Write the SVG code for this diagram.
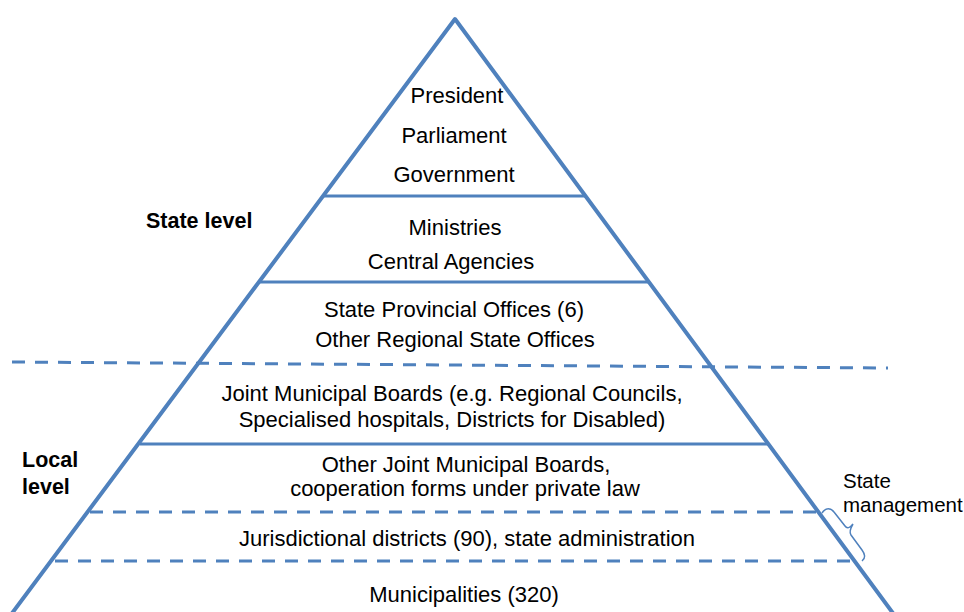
<svg xmlns="http://www.w3.org/2000/svg" width="964" height="612" viewBox="0 0 964 612">
<style>
.t{font-family:"Liberation Sans",Arial,sans-serif;font-size:22px;fill:#000;text-anchor:middle}
.b{font-family:"Liberation Sans",Arial,sans-serif;font-size:21.5px;font-weight:bold;fill:#000}
.s{font-family:"Liberation Sans",Arial,sans-serif;font-size:20.5px;fill:#000}
.edge{fill:none;stroke:#4F81BD;stroke-width:4;stroke-linejoin:round}
.solid{stroke:#4F81BD;stroke-width:3;fill:none}
.dash{stroke:#4F81BD;stroke-width:3;stroke-dasharray:13 10;fill:none}
.brace{stroke:#4F81BD;stroke-width:1.5;fill:none}
</style>
<rect width="964" height="612" fill="#fff"/>
<g id="connectors">
<polyline class="edge" points="7,620 455,19 898,620"/>
<line class="solid" x1="323" y1="196" x2="585" y2="196"/>
<line class="solid" x1="259" y1="282" x2="649" y2="282"/>
<line class="solid" x1="140" y1="444" x2="768" y2="444"/>
<line class="dash" x1="12" y1="362" x2="888" y2="368"/>
<line class="dash" x1="90" y1="512" x2="818" y2="512"/>
<line class="dash" x1="55" y1="561" x2="852" y2="561"/>
<path class="brace" d="M822,513 C826,507 831,508 834,512 L845,526 C847,529 850,528 853,524 C850,529 849,532 851,535 L862,550 C865,554 866,558 862,561"/>
</g>
<g id="tier1">
<text class="t" x="457" y="103">President</text>
<text class="t" x="454" y="143">Parliament</text>
<text class="t" x="454" y="182">Government</text>
</g>
<g id="tier2">
<text class="t" x="455" y="235">Ministries</text>
<text class="t" x="451" y="269">Central Agencies</text>
</g>
<g id="tier3">
<text class="t" x="454" y="317">State Provincial Offices (6)</text>
<text class="t" x="455" y="347">Other Regional State Offices</text>
</g>
<g id="tier4">
<text class="t" x="452" y="401">Joint Municipal Boards (e.g. Regional Councils,</text>
<text class="t" x="452" y="427">Specialised hospitals, Districts for Disabled)</text>
</g>
<g id="tier5">
<text class="t" x="466" y="472">Other Joint Municipal Boards,</text>
<text class="t" x="465" y="496">cooperation forms under private law</text>
</g>
<g id="tier6">
<text class="t" x="467" y="546">Jurisdictional districts (90), state administration</text>
</g>
<g id="tier7">
<text class="t" x="464" y="602">Municipalities (320)</text>
</g>
<g id="state-level">
<text class="b" x="146" y="228">State level</text>
</g>
<g id="local-level">
<text class="b" x="22" y="467">Local</text>
<text class="b" x="22" y="494">level</text>
</g>
<g id="state-management">
<text class="s" x="843" y="488">State</text>
<text class="s" x="843" y="512">management</text>
</g>
</svg>
